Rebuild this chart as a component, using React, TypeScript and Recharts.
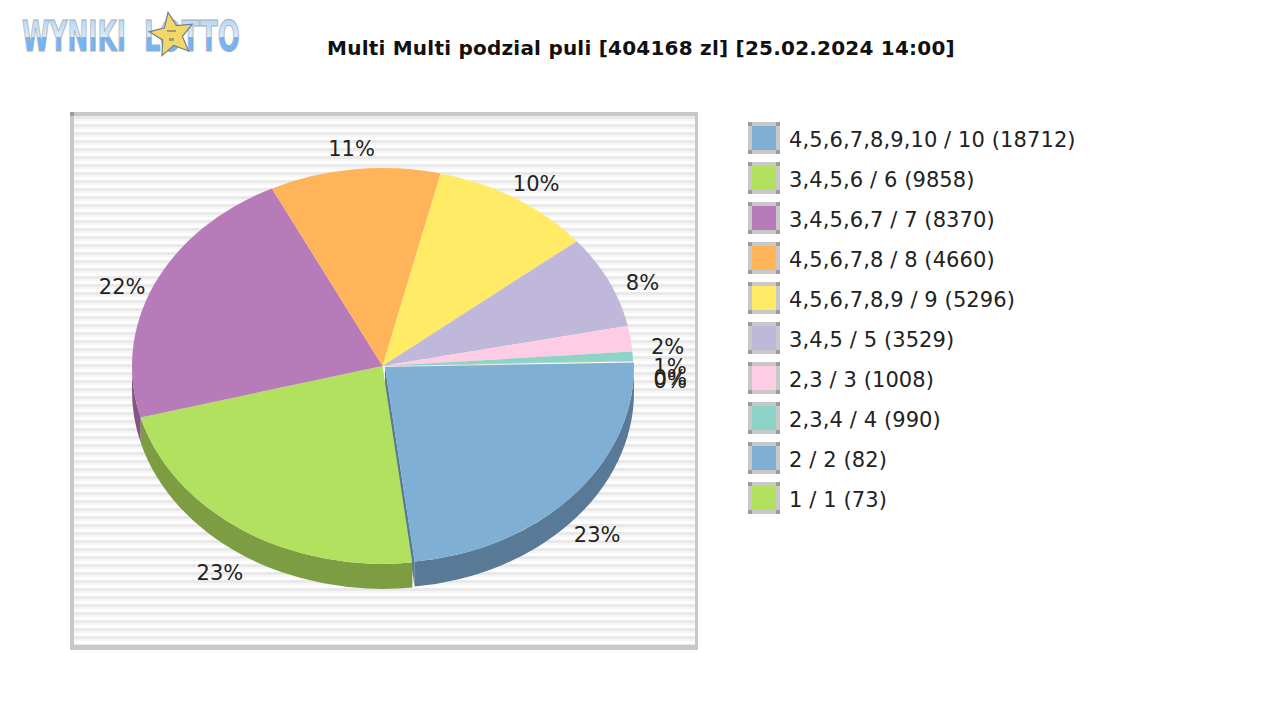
import React from 'react';
import { PieChart, Pie, Legend } from 'recharts';

const categories = [
  '4,5,6,7,8,9,10 / 10 (18712)',
  '3,4,5,6 / 6 (9858)',
  '3,4,5,6,7 / 7 (8370)',
  '4,5,6,7,8 / 8 (4660)',
  '4,5,6,7,8,9 / 9 (5296)',
  '3,4,5 / 5 (3529)',
  '2,3 / 3 (1008)',
  '2,3,4 / 4 (990)',
  '2 / 2 (82)',
  '1 / 1 (73)',
];
// share of the pool in percent
const shares = [23.45, 22.7, 21.9, 11.0, 10.4, 7.6, 2.1, 0.7, 0.05, 0.05];
const colors = ['#7fafd5', '#b2e05f', '#b87bb9', '#ffb459', '#ffeb66', '#bfb8db', '#ffcce5', '#8dd3c7', '#7fafd5', '#b2e05f'];
const sideColors = ['#587a96', '#7c9d42', '#815681', '#b27e3e', '#b2a447', '#858099', '#b28ea0', '#62938b', '#587a96', '#7c9d42'];

const TITLE = 'Multi Multi podzial puli [404168 zl] [25.02.2024 14:00]';
const FONT = '"DejaVu Sans", sans-serif';

const tableData = categories.map((name, i) => ({ name, value: shares[i], fill: colors[i], side: sideColors[i] }));

const SQUASH = 0.79;
const DEPTH = 25;
const rad = (d: number) => (d * Math.PI) / 180;

function EllipseSlice(props: any) {
  const { cx, cy, outerRadius, startAngle, endAngle, fill, side, index } = props;
  const first = index === 0;
  // first slice is pulled out of the pie a little
  const x0 = first ? cx + 2.5 : cx;
  const y0 = first ? cy + 1 : cy;
  const rx = first ? outerRadius - 1.5 : outerRadius;
  const ry = first ? 196 : outerRadius * SQUASH;
  const pt = (deg: number, dy = 0) => [x0 + rx * Math.cos(rad(deg)), y0 - ry * Math.sin(rad(deg)) + dy];
  const [sx, sy] = pt(startAngle);
  const [ex, ey] = pt(endAngle);
  const large = Math.abs(startAngle - endAngle) > 180 ? 1 : 0;
  const top = `M${x0},${y0} L${sx},${sy} A${rx},${ry} 0 ${large} 1 ${ex},${ey} Z`;

  // rim is only visible on the lower half of the ellipse
  const from = Math.min(startAngle, 0);
  const to = Math.max(endAngle, -180);
  let rim = null;
  if (from > to) {
    const [ax, ay] = pt(from);
    const [bx, by] = pt(to);
    const d = `M${ax},${ay} A${rx},${ry} 0 0 1 ${bx},${by} L${bx},${by + DEPTH} A${rx},${ry} 0 0 0 ${ax},${ay + DEPTH} Z`;
    rim = <path d={d} fill={side} />;
  }
  return (
    <g>
      {first && <path d={`M${x0},${y0} L${ex},${ey} L${ex},${ey + DEPTH} L${x0},${y0 + DEPTH} Z`} fill={side} />}
      {rim}
      <path d={top} fill={fill} />
    </g>
  );
}

// small slices share one spot, these labels are pushed apart
const labelNudge: Record<number, number> = { 6: -5, 7: -6, 8: 0, 9: 2 };

function PercentLabel(props: any) {
  const { cx, cy, midAngle, outerRadius, percent, index } = props;
  const s = Math.sin(rad(midAngle));
  const x = cx + (s < 0 ? -2 : 1) + outerRadius * 1.145 * Math.cos(rad(midAngle));
  // upper and lower labels sit on different ellipses because of the pie's rim
  const y = cy + (s < 0 ? 26 - 219 * s : 19 - 237.5 * s) + (labelNudge[index] || 0);
  return (
    <text x={x} y={y} textAnchor="middle" dominantBaseline="central" fontFamily={FONT} fontSize={21} fill="#222">
      {Math.round(percent * 100)}%
    </text>
  );
}

function LegendList({ payload }: any) {
  return (
    <div>
      {(payload || []).map((p: any, i: number) => (
        <div key={i} style={{ position: 'relative', height: 40, display: 'flex', alignItems: 'center' }}>
          <div style={{ position: 'relative', width: 32, height: 32, boxSizing: 'border-box', border: '4px solid #c8c8c8', background: p.color }}>
            {[[-4, -4], [24, -4], [-4, 24], [24, 24]].map(([l, t], k) => (
              <div key={k} style={{ position: 'absolute', left: l, top: t, width: 4, height: 4, background: '#9c9c9c' }} />
            ))}
          </div>
          <span style={{ position: 'relative', top: 2, marginLeft: 9, fontFamily: FONT, fontSize: 21, letterSpacing: 0.1, color: '#222', whiteSpace: 'nowrap' }}>{p.value}</span>
        </div>
      ))}
    </div>
  );
}

function Logo() {
  const starPts = Array.from({ length: 10 }, (_, i) => {
    const r = i % 2 === 0 ? 23 : 10.5;
    const a = rad(-100 + i * 36);
    return `${172 + r * Math.cos(a)},${35 + r * Math.sin(a)}`;
  }).join(' ');
  const word = { fontFamily: '"DejaVu Sans Condensed", "DejaVu Sans", sans-serif', fontWeight: 700, fontSize: 42, fill: 'url(#logoFill)', stroke: '#a9adb3', strokeWidth: 1, lengthAdjust: 'spacingAndGlyphs' } as any;
  return (
    <g>
      <defs>
        <linearGradient id="logoFill" x1="0" y1="0" x2="0" y2="1">
          <stop offset="0" stopColor="#a8d0f4" />
          <stop offset="0.5" stopColor="#d8ebfb" />
          <stop offset="0.52" stopColor="#72b4f8" />
          <stop offset="1" stopColor="#72b4f8" />
        </linearGradient>
      </defs>
      <text x={22} y={51} textLength={104} {...word}>WYNIKI</text>
      <text x={144} y={51} textLength={96} {...word}>LOTTO</text>
      <polygon points={starPts} fill="#f2d868" stroke="#6f7f92" strokeWidth={1.2} />
      <rect x={167} y={30} width={9} height={2} fill="#a49c6c" />
      <rect x={169} y={38} width={5} height={3} fill="#a49c6c" />
    </g>
  );
}

function Backdrop() {
  return (
    <svg width={1280} height={720} style={{ position: 'absolute', left: 0, top: 0 }}>
      <defs>
        <pattern id="stripes" width={8} height={8} patternUnits="userSpaceOnUse" y={116}>
          <rect width={8} height={8} fill="#f6f6f6" />
          <rect y={0} width={8} height={3} fill="#e9e9e9" />
          <rect y={5} width={8} height={3} fill="#ffffff" />
        </pattern>
      </defs>
      <rect x={70} y={112} width={628} height={538} fill="#c8c8c8" />
      <rect x={70} y={112} width={4} height={4} fill="#9c9c9c" />
      <rect x={74} y={116} width={621} height={529} fill="url(#stripes)" />
      <Logo />
      <text x={641} y={55} textAnchor="middle" fontFamily={FONT} fontWeight={700} fontSize={20} letterSpacing={0.22} fill="#111">{TITLE}</text>
    </svg>
  );
}

export default function App() {
  return (
    <div style={{ position: 'absolute', left: 0, top: 0, width: 1280, height: 720, background: '#fff' }}>
      <Backdrop />
      <div style={{ position: 'absolute', left: 0, top: 0 }}>
        <PieChart width={1280} height={720} margin={{ top: 0, right: 0, bottom: 0, left: 0 }}>
          <Pie
            data={tableData}
            dataKey="value"
            nameKey="name"
            cx={382.5}
            cy={366}
            outerRadius={250.5}
            startAngle={1.3}
            endAngle={-358.7}
            stroke="none"
            shape={EllipseSlice}
            label={PercentLabel}
            labelLine={false}
            isAnimationActive={false}
          />
          <Legend layout="vertical" itemSorter={null} content={LegendList} wrapperStyle={{ left: 748, top: 118, width: 400 }} />
        </PieChart>
      </div>
    </div>
  );
}
